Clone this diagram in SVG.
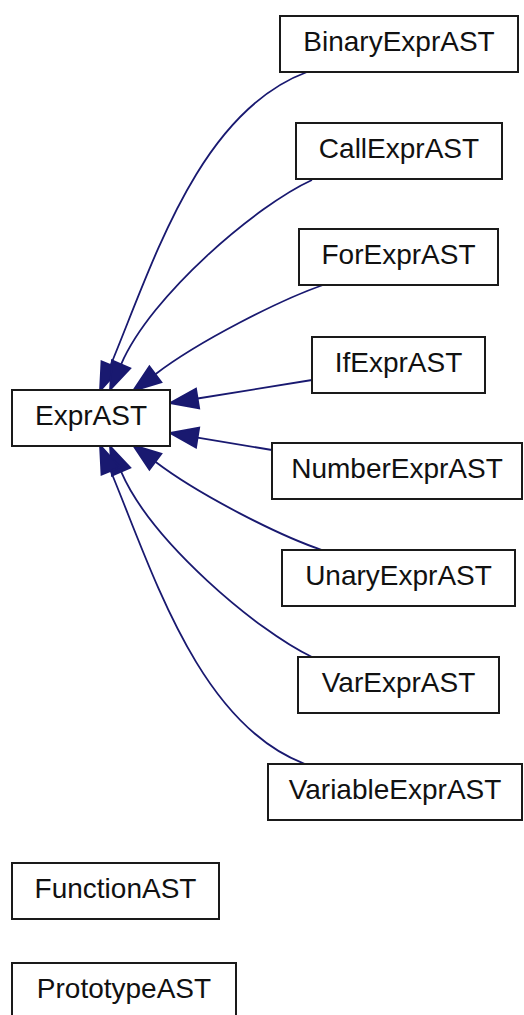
<svg xmlns="http://www.w3.org/2000/svg" width="524" height="1015" viewBox="0 0 524 1015">
<style>
.box{fill:#fff;stroke:#1a1a1a;stroke-width:2}
.lbl{font-family:"Liberation Sans",Arial,sans-serif;font-size:28px;fill:#111;text-anchor:middle}
.edge{fill:none;stroke:#191970;stroke-width:1.8}
.head{fill:#191970;stroke:#191970;stroke-width:1.8}
</style>
<rect width="524" height="1015" fill="#fff"/>
<g id="connectors">
<path class="edge" d="M307,72 C199,112 153,263 110.7,365"/>
<polygon class="head" points="100,391 119.9,368.9 101.5,361.3"/>
<path class="edge" d="M312,180 C257,205 151,295 121.1,364.3"/>
<polygon class="head" points="110,390 130.3,368.3 111.9,360.3"/>
<path class="edge" d="M323,285 C280,300 199,341 155.4,374.2"/>
<polygon class="head" points="133,391 161.4,382.2 149.4,366.2"/>
<path class="edge" d="M312,380 L197.6,398.5"/>
<polygon class="head" points="170,403 199.2,408.4 196,388.6"/>
<path class="edge" d="M272,450 L197.6,437.6"/>
<polygon class="head" points="170,433 196,447.5 199.2,427.7"/>
<path class="edge" d="M322,550 C280,536 199,495 155.4,461.8"/>
<polygon class="head" points="133,445 161.4,453.8 149.4,469.8"/>
<path class="edge" d="M312,657 C257,631 151,541 121.1,471.7"/>
<polygon class="head" points="110,446 130.3,467.7 111.9,475.7"/>
<path class="edge" d="M305,764 C199,724 153,573 110.7,471"/>
<polygon class="head" points="100,445 119.9,467.1 101.5,474.7"/>
</g>
<g id="BinaryExprAST"><rect class="box" x="280" y="16" width="238" height="56"/><text class="lbl" x="399" y="51">BinaryExprAST</text></g>
<g id="CallExprAST"><rect class="box" x="296" y="123" width="206" height="56"/><text class="lbl" x="399" y="158">CallExprAST</text></g>
<g id="ForExprAST"><rect class="box" x="299" y="229" width="199" height="56"/><text class="lbl" x="398.5" y="264">ForExprAST</text></g>
<g id="IfExprAST"><rect class="box" x="312" y="337" width="173" height="56"/><text class="lbl" x="398.5" y="372">IfExprAST</text></g>
<g id="ExprAST"><rect class="box" x="12" y="390" width="158" height="56"/><text class="lbl" x="91" y="425">ExprAST</text></g>
<g id="NumberExprAST"><rect class="box" x="272" y="443" width="250" height="56"/><text class="lbl" x="397" y="478">NumberExprAST</text></g>
<g id="UnaryExprAST"><rect class="box" x="282" y="550" width="233" height="56"/><text class="lbl" x="398.5" y="585">UnaryExprAST</text></g>
<g id="VarExprAST"><rect class="box" x="298" y="657" width="201" height="56"/><text class="lbl" x="398.5" y="692">VarExprAST</text></g>
<g id="VariableExprAST"><rect class="box" x="268" y="764" width="254" height="56"/><text class="lbl" x="395" y="799">VariableExprAST</text></g>
<g id="FunctionAST"><rect class="box" x="12" y="863" width="207" height="56"/><text class="lbl" x="115.5" y="898">FunctionAST</text></g>
<g id="PrototypeAST"><rect class="box" x="12" y="963" width="224" height="56"/><text class="lbl" x="124" y="998">PrototypeAST</text></g>
</svg>
